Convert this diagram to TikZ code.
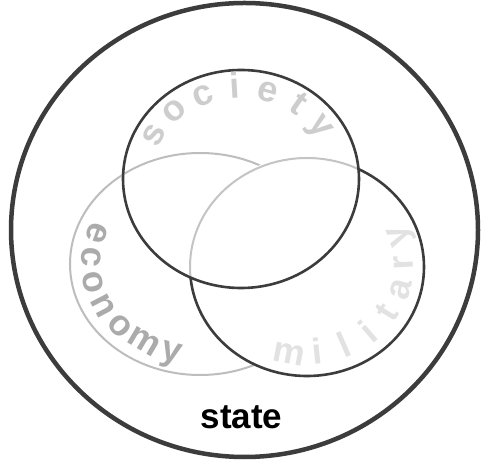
\documentclass[tikz,border=0pt]{standalone}
\usepackage{fontspec}
\newfontfamily\labfont{Liberation Sans}
\definecolor{darkline}{HTML}{3C3C3C}
\definecolor{econline}{HTML}{BDBDBD}
\definecolor{socline}{HTML}{C4C4C4}
\definecolor{soctext}{HTML}{CDCDCD}
\definecolor{econtext}{HTML}{ABABAB}
\definecolor{miltext}{HTML}{E2E2E2}
\begin{document}
\begin{tikzpicture}[x=1pt,y=1pt,
  outerring/.style={draw=darkline,line width=4.5pt},
  darkring/.style={draw=darkline,line width=2.6pt},
  lightring/.style={draw=econline,line width=2pt},
  letter/.style={inner sep=0pt,anchor=base,font=\labfont\bfseries\fontsize{36}{36}\selectfont}]
\useasboundingbox (0,0) rectangle (481,460);
\fill[white] (0,0) rectangle (481,460);
\coordinate (st) at (244.5,230);
\coordinate (soc) at (241,281);
\coordinate (mil) at (307,193);
\coordinate (eco) at (200,196);
% economy (light)
\draw[lightring] (eco) ellipse [x radius=130, y radius=111];
% military covers economy, dark outline
\fill[white] (mil) ellipse [x radius=117, y radius=109];
\draw[darkring] (mil) ellipse [x radius=117, y radius=109];
% military inside society is light
\begin{scope}
  \clip (soc) ellipse [x radius=118, y radius=109];
  \draw[white,line width=4pt] (mil) ellipse [x radius=117, y radius=109];
  \draw[socline,line width=2pt] (mil) ellipse [x radius=117, y radius=109];
\end{scope}
% society
\draw[darkring] (soc) ellipse [x radius=118, y radius=109];
% state
\draw[outerring] (st) ellipse [x radius=233.5, y radius=227];
% labels
\foreach \ch [count=\i] in {s,o,c,i,e,t,y} {
  \pgfmathsetmacro\ang{151+(\i-1)*(36-151)/6}
  \node[letter,text=soctext,rotate=\ang-90] (soc-\i) at ([shift={(\ang:90pt and 81pt)}]soc) {\ch};
}
\foreach \ch [count=\i] in {e,c,o,n,o,m,y} {
  \pgfmathsetmacro\ang{160+(\i-1)*(255-160)/6}
  \node[letter,text=econtext,rotate=\ang+90] (eco-\i) at ([shift={(\ang:119pt and 100pt)}]eco) {\ch};
}
\foreach \ch [count=\i] in {m,i,l,i,t,a,r,y} {
  \pgfmathsetmacro\ang{-101+(\i-1)*(20+101)/7}
  \node[letter,text=miltext,rotate=\ang+90] (mil-\i) at ([shift={(\ang:106pt and 98pt)}]mil) {\ch};
}
\node[inner sep=0pt,anchor=base,font=\labfont\bfseries\fontsize{35}{35}\selectfont] (state) at (241.5,32) {state};
\end{tikzpicture}
\end{document}
